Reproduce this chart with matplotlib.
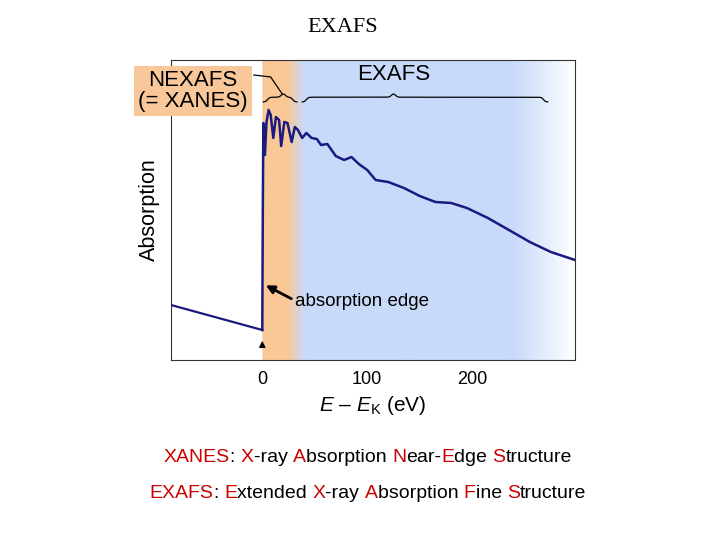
import numpy as np
import matplotlib
matplotlib.use("Agg")
import matplotlib.pyplot as plt

plt.rcParams['font.family'] = ['Liberation Sans', 'DejaVu Sans']
plt.rcParams['mathtext.fontset'] = 'custom'
plt.rcParams['mathtext.it'] = 'Liberation Sans:italic'
plt.rcParams['mathtext.rm'] = 'Liberation Sans'

pre_e = [-87, 0]
pre_a = [55, 30]
post_e = [0, 0.5, 1, 2.5, 4, 6, 8, 10.5, 13, 16, 18, 21, 24, 28, 31, 34, 38, 42, 47, 52, 56, 62,
          70, 78, 85, 92, 100, 108, 120, 135, 150, 165, 180, 195, 215, 235, 255, 275, 298]
post_a = [30, 150, 237, 205, 238, 250, 245, 222, 243, 240, 214, 238, 237, 218, 233, 230, 222, 227,
          222, 221, 215, 216, 204, 200, 203, 196, 190, 180, 178, 172, 164, 158, 157, 152, 142, 130,
          118, 108, 100]
xticks = [0, 100, 200]

fig = plt.figure(figsize=(7.2, 5.4), dpi=100)
ax = fig.add_axes([171/720, 1-360/540, 404/720, 300/540])
xmin, xmax = -87, 298
ax.set_xlim(xmin, xmax); ax.set_ylim(0, 300)

xs = np.linspace(xmin, xmax, 800)
org = np.array([250, 200, 150]) / 255
blu = np.array([200, 218, 250]) / 255
wht = np.array([1, 1, 1.0])
cols = []
for x in xs:
    if x < 0:
        c = wht
    elif x < 24:
        c = org
    elif x < 40:
        t = (x - 24) / 16; c = org * (1 - t) + blu * t
    elif x < 240:
        c = blu
    else:
        t = min((x - 240) / 58, 1); c = blu * (1 - t) + wht * t
    cols.append(c)
ax.imshow(np.array(cols)[None, :, :], extent=[xmin, xmax, 0, 300], aspect='auto', zorder=0)

ax.plot(pre_e, pre_a, color='#1a1a80', lw=1.6, zorder=3)
ax.plot(post_e, post_a, color='#1a1a80', lw=1.8, zorder=3, solid_joinstyle='round')

def brace(x0, x1, xm, y, h):
    r = 4.0
    xx = np.linspace(x0, x1, 600)
    s = lambda u: 1 / (1 + np.exp(-u / r * 4))
    yy = y + 0.6 * h * (s(xx - x0 - r) + s(x1 - r - xx) - 1) \
        + 0.4 * h * np.exp(-((xx - xm) / (r * 0.7)) ** 2)
    ax.plot(xx, yy, color='k', lw=0.9, zorder=4, clip_on=False)

brace(1, 33, 20, 258, 8)
brace(38, 272, 125, 258, 8)
ax.text(125, 286, 'EXAFS', ha='center', va='center', fontsize=16)
ax.plot([-8, 8, 19], [285, 283, 266], color='k', lw=0.9, zorder=4, clip_on=False)

fig.text(193/720, 1-91/540, 'NEXAFS\n(= XANES)', ha='center', va='center', fontsize=16,
         linespacing=1.0, bbox=dict(boxstyle='square,pad=0.2', fc='#f8c89a', ec='none'))

ax.annotate('', xy=(1, 76), xytext=(30, 60),
            arrowprops=dict(arrowstyle='-|>', color='k', lw=2, mutation_scale=12))
ax.text(31, 59, 'absorption edge', fontsize=13.5, va='center', ha='left', zorder=5)
ax.annotate('', xy=(0, 22), xytext=(0, 12),
            arrowprops=dict(arrowstyle='-|>', color='k', lw=1, mutation_scale=9))

ax.set_xticks(xticks)
ax.tick_params(axis='x', length=0, labelsize=13, pad=8)
ax.set_yticks([])
ax.set_ylabel('Absorption', fontsize=15.5, labelpad=8)
ax.set_xlabel(r'$E$ – $E_{\mathrm{K}}$ (eV)', fontsize=15, labelpad=4)
for s in ax.spines.values():
    s.set_color('#333333'); s.set_linewidth(0.8)

fig.text(343/720, 1-28/540, 'EXAFS', family='Liberation Serif', fontsize=16, ha='center', va='center')

red = '#cc0000'
def colored_line(parts, xc, yc, fs=14):
    fig.canvas.draw()
    r = fig.canvas.get_renderer()
    full = ''.join(p for p, _ in parts)
    probe = fig.text(0, 0, full.replace(' ', '\u00a0'), fontsize=fs)
    total = probe.get_window_extent(r).width
    offs = []
    pre = ''
    for p, _ in parts:
        if pre:
            probe.set_text(pre.replace(' ', '\u00a0') + '|')
            w1 = probe.get_window_extent(r).width
            probe.set_text('|')
            w2 = probe.get_window_extent(r).width
            offs.append(w1 - w2)
        else:
            offs.append(0)
        pre += p
    probe.remove()
    x0 = xc * 720 - total / 2
    for (p, c), o in zip(parts, offs):
        fig.text((x0 + o) / 720, yc, p, color=c, fontsize=fs, va='center')

colored_line([('XANES', red), (': ', 'k'), ('X', red), ('-ray ', 'k'), ('A', red), ('bsorption ', 'k'),
              ('N', red), ('ear-', 'k'), ('E', red), ('dge ', 'k'), ('S', red), ('tructure', 'k')],
             368/720, 1-457/540)
colored_line([('EXAFS', red), (': ', 'k'), ('E', red), ('xtended ', 'k'), ('X', red), ('-ray ', 'k'),
              ('A', red), ('bsorption ', 'k'), ('F', red), ('ine ', 'k'), ('S', red), ('tructure', 'k')],
             368/720, 1-493/540)

fig.savefig('out.png', dpi=100)
